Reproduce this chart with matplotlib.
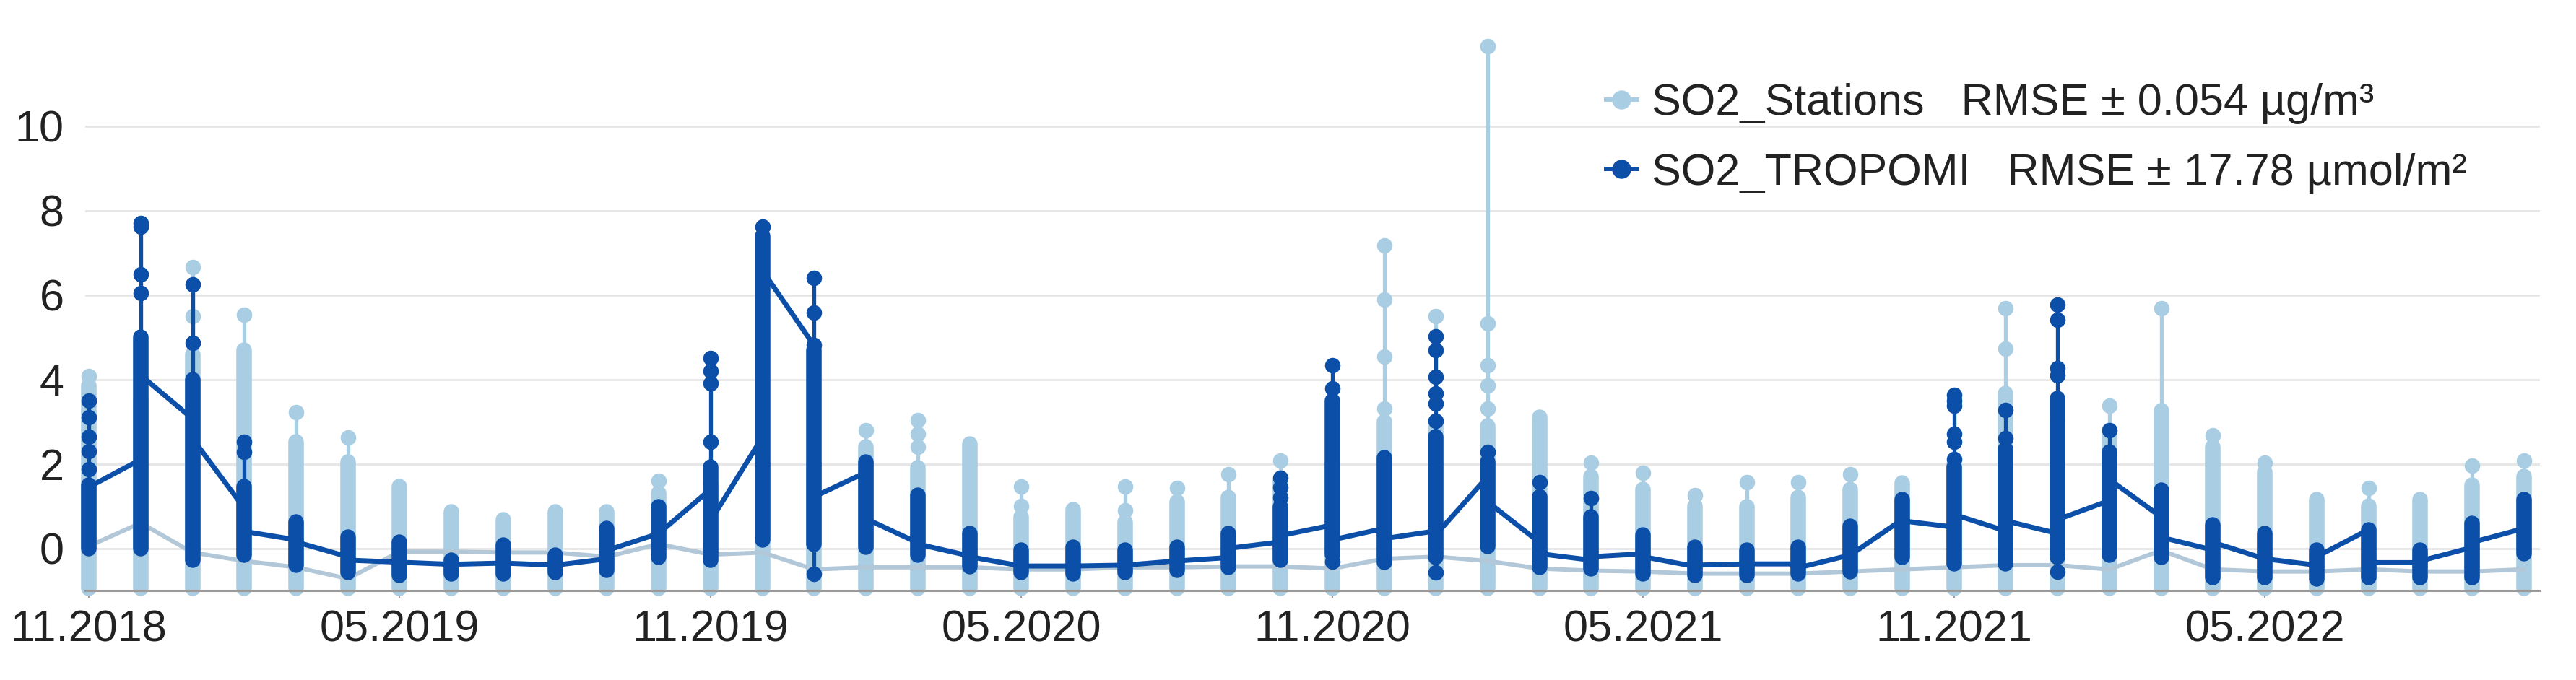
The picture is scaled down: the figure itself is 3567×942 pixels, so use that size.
import matplotlib
matplotlib.use("Agg")
import matplotlib.pyplot as plt
from matplotlib.lines import Line2D
from matplotlib.patches import Rectangle

plt.rcParams['font.family'] = ['Liberation Sans', 'DejaVu Sans']

# ---------------- data ----------------
months = ["11.2018", "12.2018", "01.2019", "02.2019", "03.2019", "04.2019",
          "05.2019", "06.2019", "07.2019", "08.2019", "09.2019", "10.2019",
          "11.2019", "12.2019", "01.2020", "02.2020", "03.2020", "04.2020",
          "05.2020", "06.2020", "07.2020", "08.2020", "09.2020", "10.2020",
          "11.2020", "12.2020", "01.2021", "02.2021", "03.2021", "04.2021",
          "05.2021", "06.2021", "07.2021", "08.2021", "09.2021", "10.2021",
          "11.2021", "12.2021", "01.2022", "02.2022", "03.2022", "04.2022",
          "05.2022", "06.2022", "07.2022", "08.2022", "09.2022", "10.2022"]
tick_labels = ["11.2018", "05.2019", "11.2019", "05.2020",
               "11.2020", "05.2021", "11.2021", "05.2022"]
yticks = [0, 2, 4, 6, 8, 10]

# SO2_Stations: dense range of station dots per month, isolated high dots, line value
st_lo = [-0.95] * 48
st_hi = [3.85, 3.5, 4.6, 4.7, 2.53, 2.05, 1.47, 0.86, 0.68, 0.86, 0.86, 1.3,
         1.5, 2.0, 2.0, 2.4, 1.9, 2.47, 0.74, 0.92, 0.62, 1.1, 1.2, 1.6,
         2.0, 3.0, 3.0, 2.9, 3.1, 1.7, 1.4, 1.0, 0.98, 1.2, 1.4, 1.54,
         2.0, 3.67, 3.0, 2.8, 3.25, 2.4, 1.8, 1.16, 1.0, 1.16, 1.5, 1.7]
st_extra = [[4.08], [], [5.5, 6.66], [5.53], [3.22], [2.62], [], [], [], [], [], [1.6],
            [], [], [], [2.8], [2.4, 2.71, 3.04], [], [1.0, 1.46], [], [0.9, 1.46], [1.43], [1.75], [2.08],
            [], [3.31, 4.54, 5.89, 7.17], [5.5], [3.31, 3.85, 4.33, 5.32, 11.9], [], [2.02], [1.78], [1.25],
            [1.57], [1.57], [1.75], [], [], [4.72, 5.68], [], [3.37], [5.68], [2.68], [2.02], [],
            [1.43], [], [1.96], [2.08]]
st_line = [0.05, 0.6, -0.1, -0.3, -0.45, -0.72, -0.08, -0.08, -0.1, -0.1, -0.2, 0.1,
           -0.15, -0.1, -0.5, -0.45, -0.45, -0.45, -0.5, -0.5, -0.45, -0.45, -0.43, -0.43,
           -0.48, -0.25, -0.2, -0.3, -0.48, -0.53, -0.55, -0.6, -0.6, -0.6, -0.55, -0.5,
           -0.45, -0.4, -0.4, -0.5, -0.05, -0.5, -0.55, -0.55, -0.5, -0.55, -0.55, -0.5]

# SO2_TROPOMI
tr_lo = [0.0, 0.0, -0.28, -0.16, -0.4, -0.58, -0.64, -0.61, -0.61, -0.58, -0.52, -0.22,
         -0.28, 0.2, 0.1, 0.02, -0.16, -0.43, -0.58, -0.61, -0.58, -0.52, -0.46, -0.28,
         -0.15, -0.34, -0.22, 0.05, -0.46, -0.49, -0.61, -0.64, -0.64, -0.61, -0.55, -0.22,
         -0.37, -0.37, -0.22, -0.16, -0.22, -0.7, -0.7, -0.73, -0.7, -0.7, -0.7, -0.13]
tr_hi = [1.5, 5.0, 4.0, 1.46, 0.62, 0.26, 0.14, -0.28, 0.08, -0.16, 0.47, 0.98,
         1.93, 7.4, 4.69, 2.05, 1.25, 0.35, -0.04, 0.02, -0.04, 0.02, 0.35, 0.98,
         3.5, 2.14, 2.65, 2.05, 1.22, 0.74, 0.32, 0.02, -0.04, 0.02, 0.53, 1.16,
         1.93, 2.35, 3.55, 2.29, 1.37, 0.56, 0.35, -0.04, 0.44, -0.04, 0.59, 1.16]
tr_extra = [[1.87, 2.3, 2.65, 3.1, 3.49], [6.04, 6.49, 7.62, 7.71], [4.87, 6.25], [2.29, 2.53],
            [], [], [], [], [], [], [], [],
            [2.53, 3.9, 4.2, 4.51], [7.62], [-0.61, 4.81, 5.59, 6.4], [], [], [], [], [], [], [], [],
            [1.2, 1.45, 1.66],
            [-0.31, 3.79, 4.33], [], [-0.58, 3.01, 3.43, 3.67, 4.06, 4.69, 5.02], [2.29], [1.57], [1.19],
            [], [], [], [], [], [],
            [2.11, 2.53, 2.71, 3.37, 3.5, 3.64], [2.6, 3.28], [-0.55, 4.09, 4.27, 5.41, 5.77], [2.8],
            [], [], [], [], [], [], [], []]
tr_in = [1.45, 2.1, 3.07, 0.95, 0.2, -0.2, -0.33, -0.38, -0.35, -0.4, -0.25, 0.35,
         1.4, 2.63, 4.8, 1.8, 0.13, -0.18, -0.42, -0.42, -0.4, -0.3, -0.22, 0.15,
         0.55, 0.47, 0.41, 1.7, 0.14, -0.28, -0.13, -0.43, -0.37, -0.37, -0.16, 0.68,
         0.5, 0.41, 0.35, 1.13, 0.74, -0.04, -0.25, -0.4, 0.44, -0.34, 0.02, 0.47]
tr_out = [1.45, 4.1, 2.6, 0.4, 0.15, -0.28, -0.33, -0.38, -0.35, -0.4, -0.05, 0.35,
          0.65, 6.58, 1.22, 0.7, 0.1, -0.2, -0.42, -0.42, -0.4, -0.3, 0.0, 0.3,
          0.2, 0.23, 0.32, 1.1, -0.13, -0.2, -0.2, -0.4, -0.37, -0.46, -0.16, 0.65,
          0.8, 0.65, 0.68, 1.63, 0.26, 0.14, -0.25, -0.2, -0.34, -0.3, 0.14, 0.5]

legend_labels = ["SO2_Stations   RMSE \u00b1 0.054 \u00b5g/m\u00b3",
                 "SO2_TROPOMI   RMSE \u00b1 17.78 \u00b5mol/m\u00b2"]

# ---------------- style ----------------
LIGHT = '#a9cde3'
LIGHT_LINE = '#b2c8d8'
DARK = '#0b4fa8'
W, H = 3567, 942
DOT = 15.5          # dot diameter in points
THIN = 3.8
FS = 44

fig = plt.figure(figsize=(W / 100, H / 100), dpi=100)
left_px, right_px = 118, 3517
bottom_px, top_px = 818, 28.5
ax = fig.add_axes([left_px / W, (H - bottom_px) / H,
                   (right_px - left_px) / W, (bottom_px - top_px) / H])
ax.set_xlim(-0.07, 47.31)
ax.set_ylim(-1, 12.5)

for s in ['top', 'right', 'left']:
    ax.spines[s].set_visible(False)
ax.spines['bottom'].set_color('#9a9a9a')
ax.spines['bottom'].set_linewidth(2.2)
ax.yaxis.grid(True, color='#e6e6e6', lw=2)
ax.set_axisbelow(True)
ax.set_yticks(yticks)
ax.set_yticklabels([str(v) for v in yticks])
ax.tick_params(axis='y', length=0, pad=21, labelsize=FS, labelcolor='#222222')
xt = [months.index(t) for t in tick_labels]
ax.set_xticks(xt)
ax.set_xticklabels(tick_labels)
ax.tick_params(axis='x', length=7, width=1.5, color='#9a9a9a', pad=12,
               labelsize=FS, labelcolor='#222222')

clip = Rectangle((0, 0), right_px / W, 1, transform=fig.transFigure)

xs = list(range(len(months)))


def draw_columns(lo, hi, extra, color, z):
    mins = [min([l] + e) for l, e in zip(lo, extra)]
    maxs = [max([h] + e) for h, e in zip(hi, extra)]
    arts = []
    arts.append(ax.vlines(xs, mins, maxs, colors=color, lw=THIN, zorder=z))
    dense = ax.vlines(xs, lo, hi, colors=color, lw=DOT, zorder=z)
    dense.set_capstyle('round')
    arts.append(dense)
    ex_x = [i for i, e in enumerate(extra) for _ in e]
    ex_y = [v for e in extra for v in e]
    arts += ax.plot(ex_x, ex_y, 'o', ms=DOT, color=color, mec='none', zorder=z)
    for a in arts:
        a.set_clip_path(clip)


draw_columns(st_lo, st_hi, st_extra, LIGHT, 2)
l1, = ax.plot(xs, st_line, color=LIGHT_LINE, lw=4.3, zorder=2.5)
l1.set_clip_path(clip)

draw_columns(tr_lo, tr_hi, tr_extra, DARK, 3)
px = [i for i in xs for _ in (0, 1)]
py = [v for a, b in zip(tr_in, tr_out) for v in (a, b)]
l2, = ax.plot(px, py, color=DARK, lw=5, zorder=3.5, solid_joinstyle='round')
l2.set_clip_path(clip)

handles = [Line2D([], [], color=LIGHT, lw=4.3, marker='o', ms=19, mec='none'),
           Line2D([], [], color=DARK, lw=4.3, marker='o', ms=19, mec='none')]
fig.legend(handles, legend_labels, loc='upper left',
           bbox_to_anchor=(2224 / W, 1 - 115 / H), frameon=False, fontsize=FS,
           handlelength=0.7, handletextpad=0.33, labelspacing=0.65,
           borderpad=0, borderaxespad=0, labelcolor='#222222')

fig.savefig("out.png", dpi=100)
